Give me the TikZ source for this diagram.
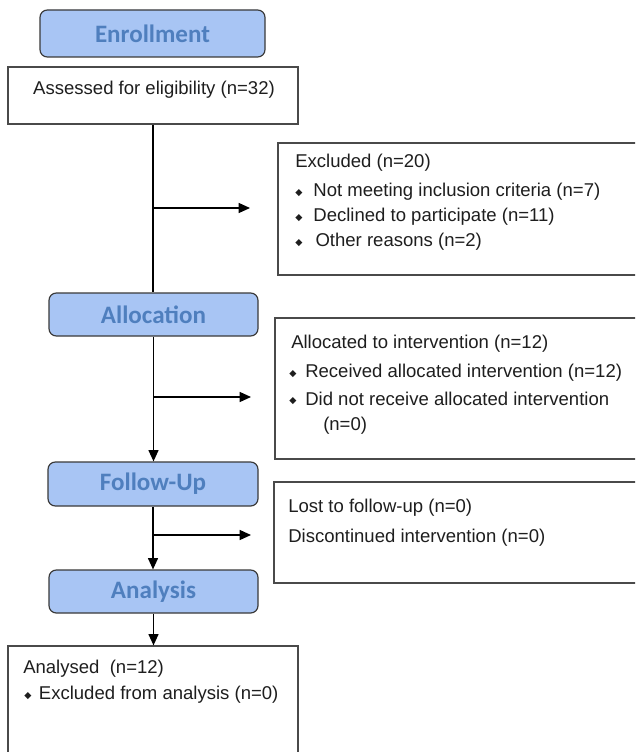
\documentclass[tikz,border=0pt]{standalone}
\usepackage{fontspec}
\setmainfont{Liberation Sans}
\newfontfamily\headfont{Carlito}
\newfontfamily\symfont{DejaVu Sans}
\usetikzlibrary{fit,arrows.meta}
\definecolor{hdfill}{HTML}{A8C5F4}
\definecolor{hdtext}{HTML}{4F7FBE}
\definecolor{hdline}{HTML}{3A3A3A}
\definecolor{boxline}{HTML}{4A4A4A}
\definecolor{txtcol}{HTML}{1E1E1E}
\newcommand\bul[1]{\makebox[#1][l]{\symfont\fontsize{7}{7}\selectfont\raisebox{0.35ex}{◆}}}
\begin{document}
\begin{tikzpicture}[x=0.75pt,y=-0.75pt,
  phase/.style={inner sep=0pt, draw=hdline, line width=0.9pt, fill=hdfill,
    rounded corners=5.5pt},
  phasetxt/.style={inner sep=0pt, font=\headfont\bfseries\fontsize{18.8}{20}\selectfont, text=hdtext},
  infobox/.style={inner sep=0pt, draw=boxline, line width=0.9pt},
  txt/.style={anchor=west, inner sep=0pt, text=txtcol, font=\fontsize{13.9}{16}\selectfont},
  conn/.style={line width=1pt, draw=black},
  arr/.style={conn, -{Triangle[length=8.5pt,width=7.5pt]}}
]
\useasboundingbox (0,0) rectangle (635,752);
\fill[white] (0,0) rectangle (635,752);
\begin{scope}
\clip (0,0) rectangle (635,752);

% phase headers
\node[phase, fit={(40,10) (265,57)}] (enroll) {};
\node[phase, fit={(49,293) (258,336)}] (alloc) {};
\node[phase, fit={(48,462) (258,506)}] (follow) {};
\node[phase, fit={(49,570) (258,613)}] (analysis) {};
\node[phasetxt] (enrollT) at (enroll.center) {Enrollment};
\node[phasetxt] (allocT) at (alloc.center) {Allocation};
\node[phasetxt] (followT) at (follow.center) {Follow-Up};
\node[phasetxt] (analysisT) at (analysis.center) {Analysis};

% boxes
\node[infobox, fit={(8,67) (298,124)}] (assess) {};
\node[infobox, fit={(278,143) (660,275)}] (excl) {};
\node[infobox, fit={(275,318) (660,459)}] (allocd) {};
\node[infobox, fit={(274,482) (660,583)}] (lost) {};
\node[infobox, fit={(8,646) (298,770)}] (analysed) {};

% texts
\node[txt, anchor=center] (tA) at (154,90) {Assessed for eligibility (n=32)};

\node[txt] (tE0) at (295,163) {Excluded (n=20)};
\node[txt] (tE1) at (295,192) {\bul{13.6pt}Not meeting inclusion criteria (n=7)};
\node[txt] (tE2) at (295,217) {\bul{13.6pt}Declined to participate (n=11)};
\node[txt] (tE3) at (295,242) {\bul{15.2pt}Other reasons (n=2)};

\node[txt] (tL0) at (291,344) {Allocated to intervention (n=12)};
\node[txt] (tL1) at (289,373) {\bul{12pt}Received allocated intervention (n=12)};
\node[txt] (tL2) at (289,399) {\bul{12pt}Did not receive allocated intervention};
\node[txt] (tL3) at (323,426) {(n=0)};

\node[txt] (tF0) at (288,508) {Lost to follow-up (n=0)};
\node[txt] (tF1) at (288,538) {Discontinued intervention (n=0)};

\node[txt] (tN0) at (23,669) {Analysed\ \ (n=12)};
\node[txt] (tN1) at (24,695) {\bul{11pt}Excluded from analysis (n=0)};

% connectors
\draw[conn] (assess.south) -- (assess.south |- alloc.north);
\draw[arr] (alloc.south) -- (alloc.south |- follow.north);
\draw[arr] (follow.south) -- (follow.south |- analysis.north);
\draw[arr] (analysis.south) -- (analysis.south |- analysed.north);

\coordinate (s1) at (153,208);
\coordinate (e1) at (250,208);
\coordinate (s2) at (153.5,397);
\coordinate (e2) at (251,397);
\coordinate (s3) at (153,535);
\coordinate (e3) at (251,535);
\draw[arr] (s1) -- (e1);
\draw[arr] (s2) -- (e2);
\draw[arr] (s3) -- (e3);
\end{scope}
\end{tikzpicture}
\end{document}
